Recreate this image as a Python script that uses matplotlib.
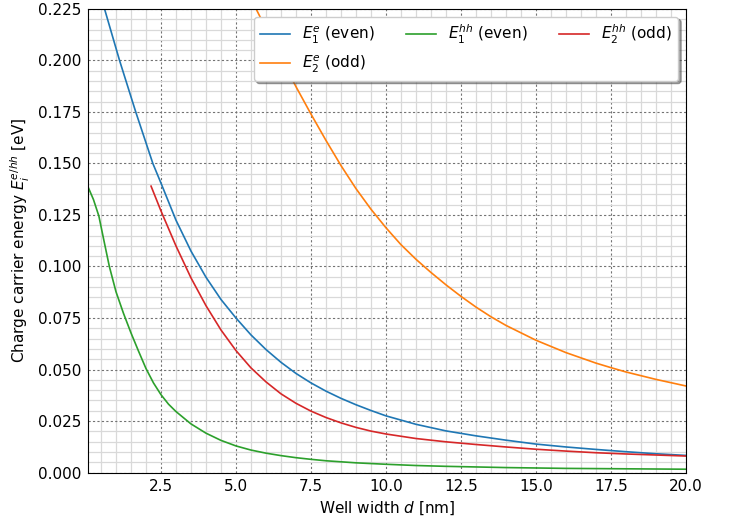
import numpy as np
import matplotlib.pyplot as plt
from matplotlib.ticker import MultipleLocator, AutoMinorLocator

# energies (d in nm, E in eV)
d_e1 = [0.4, 0.62, 1.12, 1.66, 2.23, 2.5, 3.0, 3.5, 4.0, 4.5, 5.0, 5.5, 6.0,
        6.5, 7.0, 7.5, 8.0, 8.5, 9.0, 9.5, 10.0, 11.0, 12.0, 12.5, 13.0, 14.0,
        15.0, 16.0, 17.0, 18.0, 19.0, 20.0]
E_e1 = [0.236, 0.225, 0.200, 0.175, 0.150, 0.1405, 0.1225, 0.1075, 0.0948,
        0.0840, 0.0750, 0.0668, 0.0597, 0.0535, 0.0481, 0.0435, 0.0395, 0.0360,
        0.0329, 0.0301, 0.0275, 0.0234, 0.0202, 0.0190, 0.0178, 0.0157, 0.0138,
        0.0124, 0.0112, 0.0101, 0.0091, 0.0083]

d_e2 = [5.2, 5.62, 6.0, 6.5, 7.0, 7.5, 8.0, 8.5, 9.0, 9.5, 10.0, 10.5, 11.0,
        11.5, 12.0, 12.5, 13.0, 13.5, 14.0, 15.0, 16.0, 17.0, 17.5, 18.0, 19.0,
        20.0]
E_e2 = [0.2390, 0.2265, 0.2155, 0.2013, 0.1873, 0.1740, 0.1612, 0.1490, 0.1378,
        0.1278, 0.1188, 0.1106, 0.1035, 0.0971, 0.0911, 0.0855, 0.0803, 0.0756,
        0.0714, 0.0642, 0.0582, 0.0531, 0.0509, 0.0488, 0.0452, 0.0420]

d_hh1 = [0.07, 0.25, 0.43, 0.6, 0.78, 1.0, 1.25, 1.5, 1.75, 2.0, 2.25, 2.5,
         2.75, 3.0, 3.5, 4.0, 4.5, 5.0, 5.5, 6.0, 6.5, 7.0, 7.5, 8.0, 8.5, 9.0,
         10.0, 11.0, 12.0, 13.0, 14.0, 15.0, 16.0, 17.0, 18.0, 19.0, 20.0]
E_hh1 = [0.1386, 0.1325, 0.1245, 0.1125, 0.100, 0.0878, 0.0773, 0.0678, 0.0590,
         0.0505, 0.0435, 0.0378, 0.0332, 0.0296, 0.0236, 0.0191, 0.0156, 0.0129,
         0.0109, 0.0094, 0.0082, 0.0072, 0.0064, 0.0057, 0.0052, 0.0047, 0.0040,
         0.0034, 0.0030, 0.0027, 0.0024, 0.0022, 0.0020, 0.0019, 0.0018, 0.0017,
         0.0016]

d_hh2 = [2.17, 2.5, 3.0, 3.5, 4.0, 4.5, 5.0, 5.5, 6.0, 6.5, 7.0, 7.5, 8.0, 8.5,
         9.0, 9.5, 10.0, 11.0, 12.0, 13.0, 14.0, 15.0, 16.0, 17.0, 18.0, 19.0,
         20.0]
E_hh2 = [0.139, 0.127, 0.110, 0.0945, 0.081, 0.0692, 0.0592, 0.0508, 0.0440,
         0.0382, 0.0336, 0.0298, 0.0267, 0.0241, 0.0219, 0.0201, 0.0187, 0.0165,
         0.0149, 0.0136, 0.0124, 0.0113, 0.0104, 0.0096, 0.0090, 0.0085, 0.0080]

fig = plt.figure(figsize=(7.3, 5.22), dpi=100)
ax = fig.add_axes([0.1205, 0.0948, 0.8192, 0.888])

ax.plot(d_e1, E_e1, color='C0', lw=1.2, label=r'$E_1^e$ (even)')
ax.plot(d_e2, E_e2, color='C1', lw=1.2, label=r'$E_2^e$ (odd)')
ax.plot(d_hh1, E_hh1, color='C2', lw=1.2, label=r'$E_1^{hh}$ (even)')
ax.plot(d_hh2, E_hh2, color='C3', lw=1.2, label=r'$E_2^{hh}$ (odd)')

ax.set_xlim(0.067, 20)
ax.set_ylim(0, 0.225)
ax.xaxis.set_major_locator(MultipleLocator(2.5))
ax.yaxis.set_major_locator(MultipleLocator(0.025))
ax.xaxis.set_minor_locator(AutoMinorLocator(5))
ax.yaxis.set_minor_locator(AutoMinorLocator(5))
ax.tick_params(which='both', length=0, labelsize=11, pad=5)

ax.grid(which='major', color='0.45', linestyle=(0, (2, 2)), lw=0.8)
ax.grid(which='minor', color='0.85', linestyle='-', lw=0.9)
ax.set_axisbelow(True)

ax.set_xlabel(r'Well width $d$ [nm]', fontsize=11)
ax.set_ylabel(r'Charge carrier energy $E_i^{e/hh}$ [eV]', fontsize=11)

ax.legend(loc='upper right', ncol=3, shadow=True, fontsize=11, framealpha=1)

fig.savefig('out.png')
